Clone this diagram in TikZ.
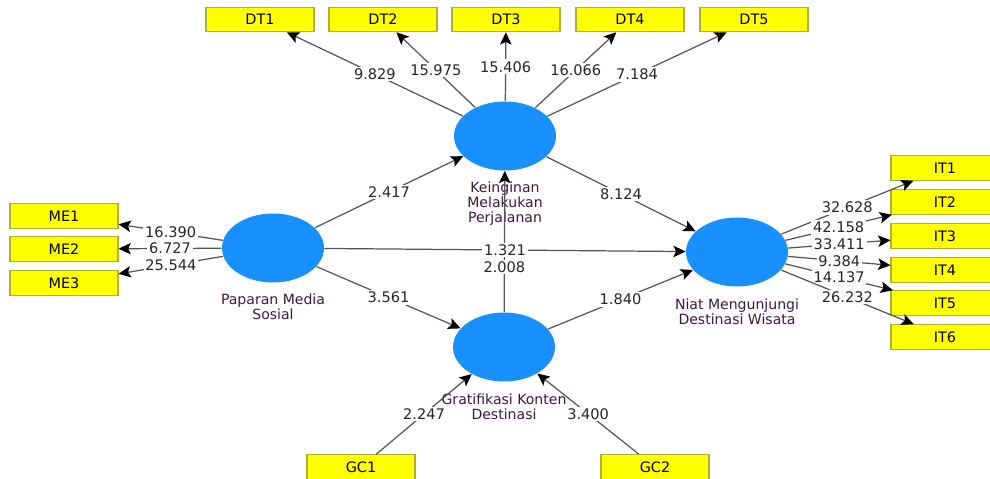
\documentclass[tikz,border=0pt]{standalone}
\usepackage{fontspec}
\setmainfont{DejaVu Sans}
\usetikzlibrary{shapes.geometric, arrows.meta, positioning}
\definecolor{latent}{RGB}{24, 144, 255}
\definecolor{indic}{RGB}{255, 255, 0}
\definecolor{indicline}{RGB}{175, 175, 50}
\definecolor{pathgray}{RGB}{85, 85, 85}
\definecolor{lvtext}{RGB}{60, 25, 60}

\begin{document}
\begin{tikzpicture}[x=0.02cm, y=-0.02cm,
    lv/.style={ellipse, fill=latent, minimum width=2.04cm, minimum height=1.38cm, inner sep=0pt},
    mv/.style={rectangle, draw=indicline, fill=indic, line width=0.6pt,
               minimum width=2.16cm, minimum height=0.49cm, inner sep=0pt, font=\fontsize{8.2}{9}\selectfont},
    lvlabel/.style={align=center, text=lvtext, inner sep=1pt, font=\fontsize{8}{8.6}\selectfont},
    rel/.style={draw=pathgray, line width=0.7pt, -{Stealth[length=7pt, width=6.5pt, inset=1.5pt, black]}},
    coef/.style={fill=white, inner sep=1pt, text=black!85, font=\fontsize{8.3}{9}\selectfont}]

    \useasboundingbox (0, 0) rectangle (990, 479);

    % Latent variables
    \node[lv] (kein) at (505, 136) {};
    \node[lv] (papar) at (273, 248) {};
    \node[lv] (grat) at (504, 347) {};
    \node[lv] (niat) at (737, 252) {};

    \node[lvlabel, below=0.18cm of kein] (keinlab) {Keinginan\\Melakukan\\Perjalanan};
    \node[lvlabel, below=0.18cm of papar] (paparlab) {Paparan Media\\Sosial};
    \node[lvlabel, below=0.2cm of niat] (niatlab) {Niat Mengunjungi\\Destinasi Wisata};
    \node[lvlabel, below=0.2cm of grat] (gratlab) {Gratifikasi Konten\\Destinasi};

    % Indicators
    \node[mv] (dt1) at (260, 19.5) {DT1};
    \node[mv] (dt2) at (383, 19.5) {DT2};
    \node[mv] (dt3) at (506, 19.5) {DT3};
    \node[mv] (dt4) at (630, 19.5) {DT4};
    \node[mv] (dt5) at (754, 19.5) {DT5};

    \node[mv] (me1) at (64, 216) {ME1};
    \node[mv] (me2) at (64, 249) {ME2};
    \node[mv] (me3) at (64, 283) {ME3};

    \node[mv] (it1) at (945, 168) {IT1};
    \node[mv] (it2) at (945, 202) {IT2};
    \node[mv] (it3) at (945, 236) {IT3};
    \node[mv] (it4) at (945, 270) {IT4};
    \node[mv] (it5) at (945, 303) {IT5};
    \node[mv] (it6) at (945, 337) {IT6};

    \node[mv] (gc1) at (361, 467) {GC1};
    \node[mv] (gc2) at (655, 467) {GC2};

    % Outer loadings
    \draw[rel] (kein) -- node[coef]{9.829} (dt1);
    \draw[rel] (kein) -- node[coef]{15.975} (dt2);
    \draw[rel] (kein) -- node[coef]{15.406} (dt3);
    \draw[rel] (kein) -- node[coef]{16.066} (dt4);
    \draw[rel] (kein) -- node[coef]{7.184} (dt5);

    \draw[rel] (papar) -- node[coef]{16.390} (me1);
    \draw[rel] (papar) -- node[coef]{6.727} (me2);
    \draw[rel] (papar) -- node[coef]{25.544} (me3);

    \draw[rel] (niat) -- node[coef]{32.628} (it1);
    \draw[rel] (niat) -- node[coef]{42.158} (it2);
    \draw[rel] (niat) -- node[coef]{33.411} (it3);
    \draw[rel] (niat) -- node[coef]{9.384} (it4);
    \draw[rel] (niat) -- node[coef]{14.137} (it5);
    \draw[rel] (niat) -- node[coef]{26.232} (it6);

    % Formative weights
    \draw[rel] (gc1) -- node[coef]{2.247} (grat);
    \draw[rel] (gc2) -- node[coef]{3.400} (grat);

    % Inner model
    \draw[rel] (grat) -- node[coef, pos=0.32]{2.008} (kein);
    \draw[rel] (papar) -- node[coef]{2.417} (kein);
    \draw[rel] (kein) -- node[coef]{8.124} (niat);
    \draw[rel] (papar) -- node[coef]{1.321} (niat);
    \draw[rel] (papar) -- node[coef]{3.561} (grat);
    \draw[rel] (grat) -- node[coef]{1.840} (niat);
\end{tikzpicture}
\end{document}
